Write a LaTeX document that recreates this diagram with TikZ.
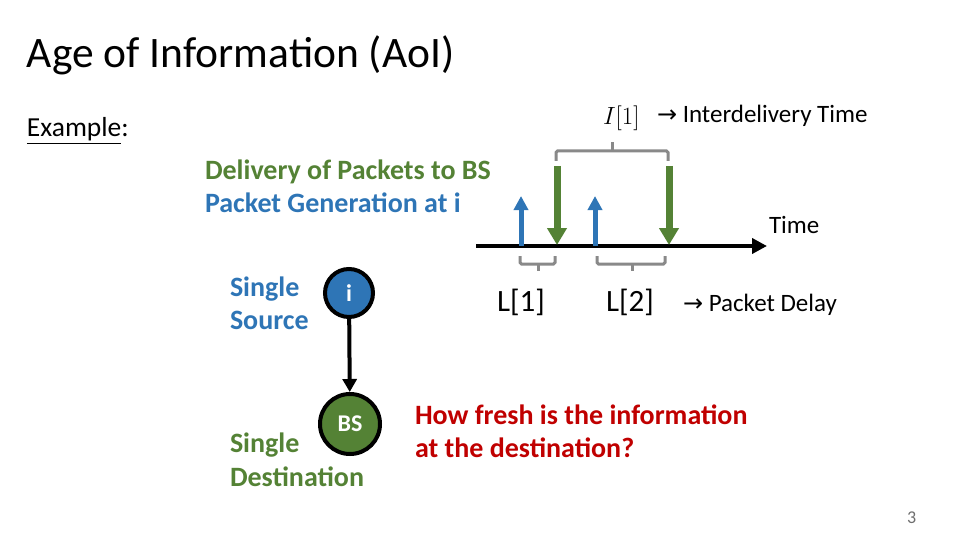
\documentclass[tikz,border=0pt]{standalone}
\usepackage{fontspec}
\setmainfont{Carlito}
\newfontfamily\symfont{DejaVu Sans}
\usetikzlibrary{arrows.meta}
\definecolor{ablue}{RGB}{46,117,182}
\definecolor{agreen}{RGB}{84,130,53}
\definecolor{ared}{RGB}{192,0,0}
\definecolor{agray}{RGB}{137,137,137}
\definecolor{pgray}{RGB}{110,110,110}
\begin{document}
\begin{tikzpicture}[x=1pt,y=-1pt,
  txt/.style={anchor=base west,inner sep=0pt,outer sep=0pt},
  bluetxt/.style={txt,text=ablue,font=\fontsize{28}{34}\selectfont\bfseries},
  greentxt/.style={txt,text=agreen,font=\fontsize{28}{34}\selectfont\bfseries},
  gen/.style={ablue,line width=5pt,-{Triangle[length=14pt,width=14pt]}},
  dlv/.style={agreen,line width=7pt,-{Triangle[length=17pt,width=19pt]}},
  brk/.style={agray,line width=3pt,rounded corners=1.5pt},
  vertex/.style={circle,draw=black,line width=4pt,text=white,font=\fontsize{24}{28}\selectfont\bfseries,inner sep=0pt}
]
\useasboundingbox (0,0) rectangle (960,540);
% title
\node[txt,font=\fontsize{43.5}{52}\selectfont] (title) at (27,68) {Age of Information (AoI)};
\node[txt,font=\fontsize{27.5}{33}\selectfont] (ex) at (27,137) {\underline{Example}:};
% legend
\node[greentxt] (dl) at (205,179) {Delivery of Packets to BS};
\node[bluetxt] (pg) at (205,212) {Packet Generation at i};
% timeline
\coordinate (t0) at (476,246);
\coordinate (t1) at (767,246);
\draw[line width=4.5pt,-{Triangle[length=15pt,width=15pt]}] (t0) -- (t1);
\node[txt,font=\fontsize{25}{30}\selectfont] (time) at (769,233) {Time};
% generations
\coordinate (g1a) at (521,246); \coordinate (g1b) at (521,196);
\coordinate (g2a) at (595,246); \coordinate (g2b) at (595,196);
\draw[gen] (g1a) -- (g1b);
\draw[gen] (g2a) -- (g2b);
% deliveries
\coordinate (d1a) at (557,166); \coordinate (d1b) at (557,245);
\coordinate (d2a) at (669,166); \coordinate (d2b) at (669,245);
\draw[dlv] (d1a) -- (d1b);
\draw[dlv] (d2a) -- (d2b);
% top bracket
\draw[brk] (556,161) -- (556,151) -- (668,151) -- (668,161);
\draw[brk] (612,151) -- (612,142);
\node[txt,font=\fontsize{31}{36}\selectfont] (I1) at (603,125) {$I[1]$};
\node[txt,font=\fontsize{25}{30}\selectfont] (idt) at (657,123) {{\symfont\fontsize{24}{28}\selectfont→} Interdelivery Time};
% bottom brackets
\draw[brk] (520,256) -- (520,264) -- (555,264) -- (555,256);
\draw[brk] (538,264) -- (538,271);
\draw[brk] (597,256) -- (597,264) -- (665,264) -- (665,256);
\draw[brk] (632,264) -- (632,271);
\node[txt,font=\fontsize{31}{37}\selectfont] (L1) at (497,311) {L[1]};
\node[txt,font=\fontsize{31}{37}\selectfont] (L2) at (606,311) {L[2]};
\node[txt,font=\fontsize{25}{30}\selectfont] (pd) at (683,311) {{\symfont\fontsize{24}{28}\selectfont→} Packet Delay};
% graph
\node[vertex,fill=ablue,minimum size=48pt] (i) at (349,293) {i};
\node[vertex,fill=agreen,minimum size=60pt] (bs) at (350,424) {BS};
\draw[line width=4pt,-{Triangle[length=13pt,width=14pt]}] (i) -- (bs);
\node[bluetxt] (ss1) at (230,296) {Single};
\node[bluetxt] (ss2) at (230,329) {Source};
\node[greentxt] (sd1) at (230,452) {Single};
\node[greentxt] (sd2) at (230,486) {Destination};
% question
\node[txt,text=ared,font=\fontsize{28}{34}\selectfont\bfseries] (q1) at (415,424) {How fresh is the information};
\node[txt,text=ared,font=\fontsize{28}{34}\selectfont\bfseries] (q2) at (415,457) {at the destination?};
% page number
\node[txt,text=pgray,font=\fontsize{18}{22}\selectfont] (pn) at (907,523) {3};
\end{tikzpicture}
\end{document}
